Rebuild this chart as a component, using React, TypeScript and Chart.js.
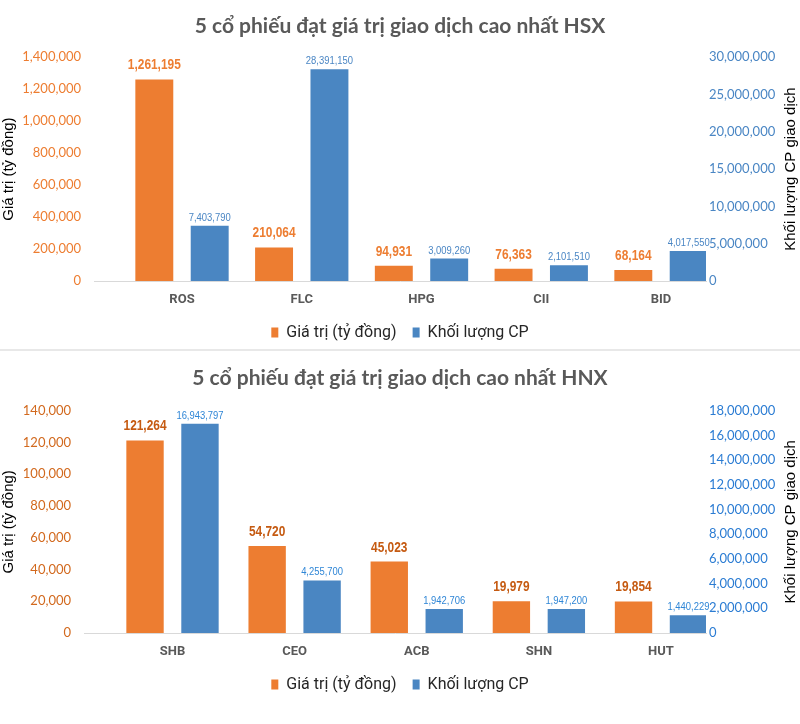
import React, { useEffect, useRef } from 'react';
import { Chart, registerables } from 'chart.js';

Chart.register(...registerables);

// ---------- data ----------
const HSX_TITLE = '5 cổ phiếu đạt giá trị giao dịch cao nhất HSX';
const HSX_CATEGORIES = ['ROS', 'FLC', 'HPG', 'CII', 'BID'];
const HSX_VALUE = [1261195, 210064, 94931, 76363, 68164];
const HSX_VOLUME = [7403790, 28391150, 3009260, 2101510, 4017550];

const HNX_TITLE = '5 cổ phiếu đạt giá trị giao dịch cao nhất HNX';
const HNX_CATEGORIES = ['SHB', 'CEO', 'ACB', 'SHN', 'HUT'];
const HNX_VALUE = [121264, 54720, 45023, 19979, 19854];
const HNX_VOLUME = [16943797, 4255700, 1942706, 1947200, 1440229];

const SERIES_NAMES = ['Giá trị (tỷ đồng)', 'Khối lượng CP'];
const LEFT_AXIS_TITLE = 'Giá trị (tỷ đồng)';
const RIGHT_AXIS_TITLE = 'Khối lượng CP giao dịch';

const HSX_LEFT_RANGE = [0, 1400000, 200000];
const HSX_RIGHT_RANGE = [0, 30000000, 5000000];
const HNX_LEFT_RANGE = [0, 140000, 20000];
const HNX_RIGHT_RANGE = [0, 18000000, 2000000];

// ---------- styles ----------
const CONDENSED = "Roboto, 'Liberation Sans', sans-serif";
const LABEL_FAMILY = "'Liberation Sans', Arial, sans-serif";
const TICK_FAMILY = "Lato, 'Open Sans', sans-serif";
const TITLE_FAMILY = "Lato, 'Open Sans', sans-serif";
const AXIS_TITLE_FAMILY = "'Liberation Sans', Arial, sans-serif";

const fmt = (v: number) => v.toLocaleString('en-US');

const valueLabelPlugin = {
  id: 'valueLabels',
  afterDatasetsDraw(chart: any, _args: any, opts: any) {
    const ctx = chart.ctx;
    chart.data.datasets.forEach((ds: any, di: number) => {
      const meta = chart.getDatasetMeta(di);
      const st = opts.styles[di];
      meta.data.forEach((el: any, i: number) => {
        const raw = ds.data[i];
        ctx.save();
        ctx.translate(el.x, el.y - st.offset);
        ctx.scale(st.squeeze, 1);
        ctx.font = st.font;
        ctx.fillStyle = st.color;
        ctx.textAlign = 'center';
        ctx.textBaseline = 'alphabetic';
        ctx.fillText(fmt(raw.y), 0, 0);
        ctx.restore();
      });
    });
  },
};

const rightTitlePlugin = {
  id: 'rightTitle',
  afterDraw(chart: any, _args: any, opts: any) {
    const ctx = chart.ctx;
    const area = chart.chartArea;
    ctx.save();
    ctx.translate(opts.x, (area.top + area.bottom) / 2);
    ctx.rotate(-Math.PI / 2);
    ctx.font = opts.font;
    ctx.fillStyle = opts.color;
    ctx.textAlign = 'center';
    ctx.textBaseline = 'middle';
    ctx.fillText(opts.text, 0, 0);
    ctx.restore();
  },
};

type PanelProps = {
  height: number;
  title: string;
  categories: string[];
  values: number[];
  volumes: number[];
  leftRange: number[];
  rightRange: number[];
  chartLeft: number;
  chartRight: number;
  xMin: number;
  xMax: number;
  catPct: number;
  barPct: number;
  titlePad: number[];
  bottomPad: number;
  leftTickColor: string;
  rightTickColor: string;
  orangeLabel: string;
  blueLabel: string;
};

const ORANGE = '#ED7D31';
const BLUE = '#4A86C2';

function Panel(p: PanelProps) {
  const ref = useRef<HTMLCanvasElement | null>(null);
  useEffect(() => {
    if (!ref.current) return;
    const chart = new Chart(ref.current, {
      type: 'bar',
      data: {
        datasets: [
          {
            label: SERIES_NAMES[0],
            data: p.values.map((v, i) => ({ x: i, y: v })),
            backgroundColor: ORANGE,
            borderWidth: 0,
            yAxisID: 'yLeft',
            categoryPercentage: p.catPct,
            barPercentage: p.barPct,
          },
          {
            label: SERIES_NAMES[1],
            data: p.volumes.map((v, i) => ({ x: i, y: v })),
            backgroundColor: BLUE,
            borderWidth: 0,
            yAxisID: 'yRight',
            categoryPercentage: p.catPct,
            barPercentage: p.barPct,
          },
        ],
      } as any,
      options: {
        animation: false,
        responsive: false,
        devicePixelRatio: 1,
        layout: { padding: { left: 0, right: 0, top: 0, bottom: p.bottomPad } },
        scales: {
          x: {
            type: 'linear',
            min: p.xMin,
            max: p.xMax,
            offset: false,
            afterBuildTicks: (scale: any) => {
              scale.ticks = p.categories.map((_, i) => ({ value: i }));
            },
            afterFit: (scale: any) => {
              scale.height = scale.height - 10;
            },
            ticks: {
              autoSkip: false,
              maxRotation: 0,
              padding: 11,
              color: '#595959',
              font: { family: CONDENSED, size: 13, weight: 'bold' },
              callback: (v: any) => p.categories[v] ?? '',
            },
            grid: { display: false, drawTicks: false, offset: false },
            border: { display: true, color: '#D9D9D9', width: 1 },
          },
          yLeft: {
            type: 'linear',
            position: 'left',
            min: p.leftRange[0],
            max: p.leftRange[1],
            afterFit: (scale: any) => {
              scale.width = p.chartLeft;
            },
            ticks: {
              stepSize: p.leftRange[2],
              padding: 13,
              color: p.leftTickColor,
              font: { family: TICK_FAMILY, size: 13 },
              callback: (v: any) => fmt(Number(v)),
            },
            grid: { display: false, drawTicks: false },
            border: { display: false },
            title: {
              display: true,
              text: LEFT_AXIS_TITLE,
              color: '#000000',
              padding: 0,
              font: { family: AXIS_TITLE_FAMILY, size: 15 },
            },
          },
          yRight: {
            type: 'linear',
            position: 'right',
            min: p.rightRange[0],
            max: p.rightRange[1],
            afterFit: (scale: any) => {
              scale.width = 800 - p.chartRight;
            },
            ticks: {
              stepSize: p.rightRange[2],
              padding: 3,
              color: p.rightTickColor,
              font: { family: TICK_FAMILY, size: 13 },
              callback: (v: any) => fmt(Number(v)),
            },
            grid: { display: false, drawTicks: false },
            border: { display: false },
          },
        },
        plugins: {
          title: {
            display: true,
            text: p.title,
            color: '#595959',
            font: { family: TITLE_FAMILY, size: 21, weight: 'bold' },
            padding: { top: p.titlePad[0], bottom: p.titlePad[1] },
          },
          legend: {
            display: true,
            position: 'bottom',
            labels: {
              boxWidth: 7,
              boxHeight: 10,
              padding: 16,
              color: '#262626',
              font: { family: CONDENSED, size: 16 },
            },
          },
          tooltip: { enabled: false },
          valueLabels: {
            styles: [
              { font: `bold 14.5px ${LABEL_FAMILY}`, color: p.orangeLabel, offset: 10, squeeze: 0.82 },
              { font: `11.5px ${LABEL_FAMILY}`, color: p.blueLabel, offset: 5, squeeze: 0.82 },
            ],
          },
          rightTitle: {
            text: RIGHT_AXIS_TITLE,
            x: 791,
            color: '#000000',
            font: `15px ${AXIS_TITLE_FAMILY}`,
          },
        } as any,
      } as any,
      plugins: [valueLabelPlugin, rightTitlePlugin],
    });
    return () => chart.destroy();
  }, []);
  return (
    <canvas
      ref={ref}
      width={800}
      height={p.height}
      style={{ display: 'block', width: 800, height: p.height }}
    />
  );
}

export default function App() {
  useEffect(() => {
    document.body.style.margin = '0';
    document.body.style.background = '#ffffff';
  }, []);
  return (
    <div style={{ width: 800, height: 724, background: '#fff' }}>
      <Panel
        height={349}
        title={HSX_TITLE}
        categories={HSX_CATEGORIES}
        values={HSX_VALUE}
        volumes={HSX_VOLUME}
        leftRange={HSX_LEFT_RANGE}
        rightRange={HSX_RIGHT_RANGE}
        chartLeft={94}
        chartRight={706}
        xMin={-0.7349}
        xMax={4.3758}
        catPct={0.925}
        barPct={0.685}
        titlePad={[14, 18]}
        bottomPad={-1.6}
        leftTickColor="#ED7D31"
        rightTickColor="#4A86C4"
        orangeLabel="#ED7D31"
        blueLabel="#4A86C4"
      />
      <div style={{ height: 2, background: '#E8E8E8' }} />
      <Panel
        height={373}
        title={HNX_TITLE}
        categories={HNX_CATEGORIES}
        values={HNX_VALUE}
        volumes={HNX_VOLUME}
        leftRange={HNX_LEFT_RANGE}
        rightRange={HNX_RIGHT_RANGE}
        chartLeft={84}
        chartRight={706}
        xMin={-0.7247}
        xMax={4.3685}
        catPct={0.9}
        barPct={0.68}
        titlePad={[15, 19.5]}
        bottomPad={21.4}
        leftTickColor="#D2691E"
        rightTickColor="#2B7CD3"
        orangeLabel="#C55A11"
        blueLabel="#2F86D6"
      />
    </div>
  );
}
